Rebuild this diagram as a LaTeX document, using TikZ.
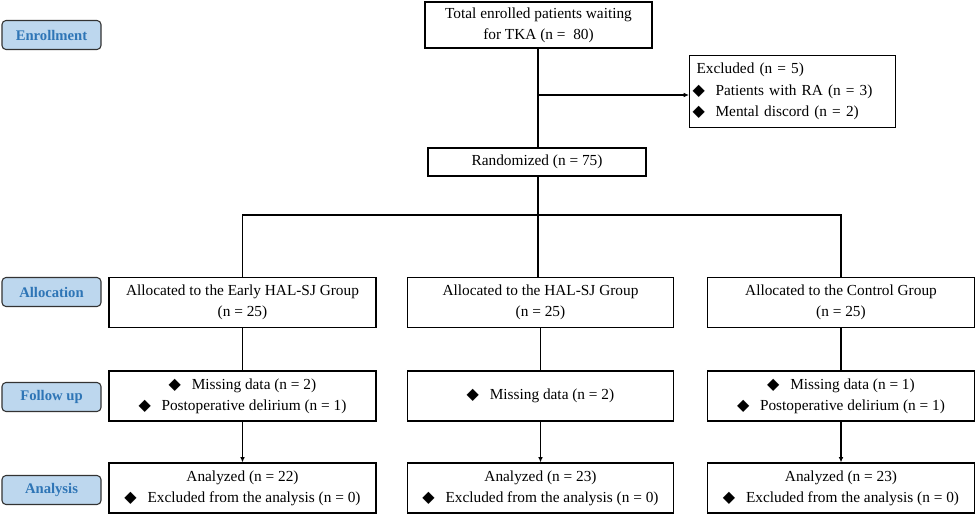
\documentclass[tikz,border=0pt]{standalone}
\usepackage{fontspec}
\setmainfont{Liberation Serif}
\newfontfamily\symfont{DejaVu Sans}
\usetikzlibrary{arrows.meta,positioning}
\definecolor{stagefill}{HTML}{BDD7EE}
\definecolor{stagetext}{HTML}{2E75B6}
\newcommand{\dia}{{\symfont\fontsize{12}{12}\selectfont◆}\hspace{0.7em}}
\tikzset{%
stage/.style={draw=black!80, thick, rounded corners=3pt, fill=stagefill, text=stagetext, font=\fontsize{11}{13}\selectfont\bfseries, minimum width=74.25pt, minimum height=21.75pt, inner sep=0pt},
box/.style={draw, thick, align=center, inner sep=0pt, font=\fontsize{11.5}{16}\selectfont},
pt/.style={thick,-{Latex[length=4pt,width=3.5pt]}},
ln/.style={thick}
}
\begin{document}
\begin{tikzpicture}[x=0.75pt,y=-0.75pt]
\useasboundingbox (0,0) rectangle (976,515);
% stages
\node[stage] (enr) at (51.5,35) {Enrollment};
\node[stage] (alc) at (51.5,292) {Allocation};
\node[stage] (fol) at (51.5,397) {Follow up};
\node[stage] (ana) at (51.5,490) {Analysis};
% top
\node[box, minimum width=170.25pt, minimum height=34.5pt] (tot) at (538.5,25) {Total enrolled patients waiting\\for TKA (n =~ 80)};
\node[box, minimum width=154.5pt, minimum height=54pt, align=left, anchor=north west, text width=150pt] (exc) at (689,55)
  {\hspace*{3pt}Excluded (n = 5)\\\dia Patients with RA (n = 3)\\\dia Mental discord (n = 2)};
\node[box, minimum width=163.5pt, minimum height=21pt] (ran) at (537,162) {Randomized (n = 75)};
% allocation
\node[box, minimum width=200.25pt, minimum height=37.5pt] (a1) at (242.5,302.5) {Allocated to the Early HAL-SJ Group\\(n = 25)};
\node[box, minimum width=199.5pt, minimum height=37.5pt] (a2) at (540.5,302.5) {Allocated to the HAL-SJ Group\\(n = 25)};
\node[box, minimum width=200.25pt, minimum height=37.5pt] (a3) at (841,302.5) {Allocated to the Control Group\\(n = 25)};
% follow up
\node[box, minimum width=200.25pt, minimum height=37.5pt] (f1) at (242.5,396) {\dia Missing data (n = 2)\\\dia Postoperative delirium (n = 1)};
\node[box, minimum width=199.5pt, minimum height=37.5pt] (f2) at (540.5,396) {\dia Missing data (n = 2)};
\node[box, minimum width=200.25pt, minimum height=37.5pt] (f3) at (841,396) {\dia Missing data (n = 1)\\\dia Postoperative delirium (n = 1)};
% analysis
\node[box, minimum width=200.25pt, minimum height=37.5pt] (n1) at (242.5,488) {Analyzed (n = 22)\\\dia Excluded from the analysis (n = 0)};
\node[box, minimum width=199.5pt, minimum height=37.5pt] (n2) at (540.5,488) {Analyzed (n = 23)\\\dia Excluded from the analysis (n = 0)};
\node[box, minimum width=200.25pt, minimum height=37.5pt] (n3) at (841,488) {Analyzed (n = 23)\\\dia Excluded from the analysis (n = 0)};
% connectors
\coordinate (br) at (538,95);
\coordinate (sp) at (538,215);
\draw[ln] (tot.south -| br) -- (ran.north -| br);
\draw[pt] (br) -- (br -| exc.west);
\draw[ln] (ran.south -| sp) -- (sp);
\draw[ln] (a1.north) -- (a1.north |- sp) -- (a3.north |- sp) -- (a3.north);
\draw[ln] (sp) -- (sp |- a2.north);
\foreach \i in {1,2,3}{
  \draw[ln] (a\i) -- (f\i);
  \draw[pt] (f\i) -- (n\i);
}
\end{tikzpicture}
\end{document}
